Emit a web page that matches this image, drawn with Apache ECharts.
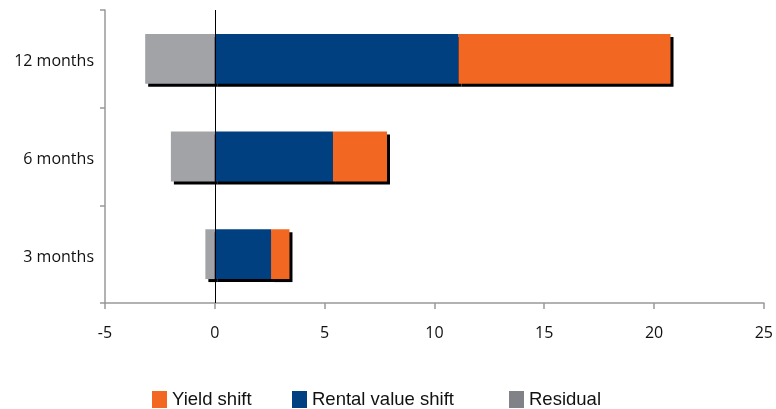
<!DOCTYPE html>
<html>
<head>
<meta charset="utf-8">
<script src="https://cdn.jsdelivr.net/npm/echarts@6/dist/echarts.min.js"></script>
<style>html,body{margin:0;padding:0;background:#fff;}#c{width:776px;height:409px;}</style>
</head>
<body>
<div id="c"></div>
<script>
const categories = ['3 months', '6 months', '12 months'];
const residual = [-0.43, -2.0, -3.17];
const rentalValueShift = [2.56, 5.38, 11.1];
const yieldShift = [0.84, 2.46, 9.65];
const xTicks = { min: -5, max: 25, interval: 5 };

const shadow = { shadowColor: '#000', shadowBlur: 0, shadowOffsetX: 3, shadowOffsetY: 3 };
const chart = echarts.init(document.getElementById('c'));
const legendText = { fontFamily: 'Liberation Sans, Arial, sans-serif', fontSize: 18.5, color: '#111' };
function leg(name, left, color) {
  return {
    data: [{ name: name, itemStyle: { color: color } }],
    left: left, top: 390, padding: 0, itemWidth: 15, itemHeight: 17, itemGap: 5,
    selectedMode: false, textStyle: legendText, icon: 'rect'
  };
}
const yLabelFont = { fontFamily: 'Open Sans, sans-serif', fontSize: 16, color: '#111' };
chart.setOption({
  animation: false,
  grid: { left: 105, right: 8, top: 10, bottom: 106, containLabel: false },
  legend: [
    leg('Yield shift', 152, '#F26722'),
    leg('Rental value shift', 292, '#004080'),
    leg('Residual', 509, '#808288')
  ],
  xAxis: {
    type: 'value', min: xTicks.min, max: xTicks.max, interval: xTicks.interval,
    axisLine: { show: true, onZero: false, lineStyle: { color: '#999', width: 1.5 } },
    axisTick: { show: true, length: 6, lineStyle: { color: '#999', width: 1.5 } },
    splitLine: { show: false },
    axisLabel: { fontFamily: 'Open Sans, sans-serif', fontSize: 16, color: '#111', margin: 22 }
  },
  yAxis: {
    type: 'category', data: categories,
    axisLine: { show: true, onZero: false, lineStyle: { color: '#999', width: 1.5 } },
    axisTick: { show: true, length: 5, lineStyle: { color: '#999', width: 1.5 } },
    axisLabel: Object.assign({ margin: 11, formatter: '{a|{value}}',
      rich: { a: Object.assign({ padding: [6, 0, 0, 0] }, yLabelFont) } }, yLabelFont)
  },
  series: [
    { name: 'Residual', type: 'bar', stack: 'a', data: residual, barWidth: '51%', z: 2,
      itemStyle: Object.assign({ color: '#A2A3A7' }, shadow) },
    { name: 'Rental value shift', type: 'bar', stack: 'a', data: rentalValueShift, z: 3,
      itemStyle: Object.assign({ color: '#004080' }, shadow) },
    { name: 'Yield shift', type: 'bar', stack: 'a', data: yieldShift, z: 4,
      itemStyle: Object.assign({ color: '#F26722' }, shadow),
      markLine: { silent: true, symbol: 'none', label: { show: false },
        lineStyle: { color: '#000', width: 1, type: 'solid' }, data: [{ xAxis: 0 }] } }
  ]
});
</script>
</body>
</html>
